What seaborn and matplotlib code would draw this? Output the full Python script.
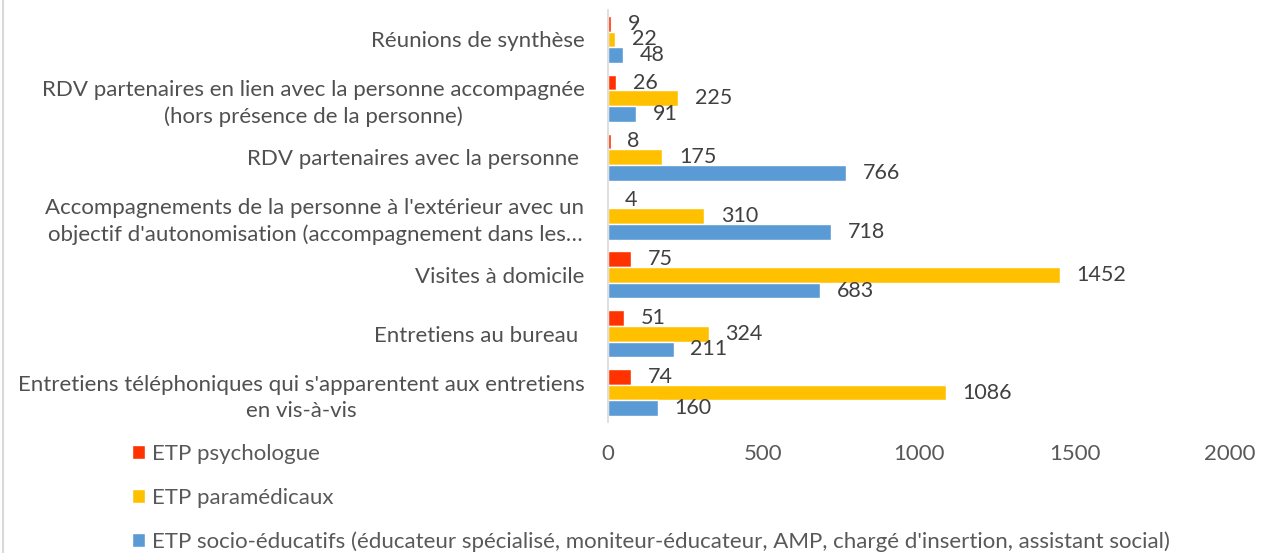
import pandas as pd
import matplotlib.pyplot as plt
import seaborn as sns
from matplotlib.lines import Line2D

# Categories (top to bottom) and series values
categories = [
    "Réunions de synthèse",
    "RDV partenaires en lien avec la personne accompagnée\n(hors présence de la personne)",
    "RDV partenaires avec la personne ",
    "Accompagnements de la personne à l'extérieur avec un\nobjectif d'autonomisation (accompagnement dans les…",
    "Visites à domicile",
    "Entretiens au bureau ",
    "Entretiens téléphoniques qui s'apparentent aux entretiens\nen vis-à-vis",
]
series = [
    "ETP psychologue",
    "ETP paramédicaux",
    "ETP socio-éducatifs (éducateur spécialisé, moniteur-éducateur, AMP, chargé d'insertion, assistant social)",
]
psychologue = [9, 26, 8, 0.3, 75, 51, 74]
paramedicaux = [22, 225, 175, 310, 1452, 324, 1086]
socio_educatifs = [48, 91, 766, 718, 683, 211, 160]
value_text = [
    ["9", "26", "8", "4", "75", "51", "74"],
    ["22", "225", "175", "310", "1452", "324", "1086"],
    ["48", "91", "766", "718", "683", "211", "160"],
]
colors = ["#FF3300", "#FFC000", "#5B9BD5"]
xticks = [0, 500, 1000, 1500, 2000]

rows = []
for s, vals in zip(series, [psychologue, paramedicaux, socio_educatifs]):
    for c, v in zip(categories, vals):
        rows.append({"Catégorie": c, "Série": s, "Valeur": v})
df = pd.DataFrame(rows)

sns.set_style("white")
plt.rcParams["font.family"] = ["Lato", "DejaVu Sans"]

fig = plt.figure(figsize=(12.61, 5.53), dpi=100)
ax = fig.add_axes([0.4822, 0.2369, 0.4932, 0.7451])

sns.barplot(data=df, y="Catégorie", x="Valeur", hue="Série", order=categories,
            hue_order=series, palette=colors, orient="h", width=0.8,
            saturation=1, ax=ax, legend=True)

for cont, labels in zip(ax.containers, value_text):
    ax.bar_label(cont, labels=labels, padding=12, fontsize=15.5, color="#404040")

ax.set_xlim(0, 2000)
ax.set_xticks(xticks)
ax.set_xlabel("")
ax.set_ylabel("")
ax.tick_params(axis="x", length=0, pad=15.5, labelsize=16, labelcolor="#595959")
ax.tick_params(axis="y", length=0, pad=17, labelsize=16, labelcolor="#505050")
for lab in ax.get_yticklabels():
    lab.set_multialignment("center")
    lab.set_linespacing(1.4)
for side in ["top", "right", "bottom"]:
    ax.spines[side].set_visible(False)
ax.spines["left"].set_color("#D9D9D9")
ax.spines["left"].set_linewidth(1.2)

handles, labels = ax.get_legend_handles_labels()
ax.legend_.remove()
fig.legend(handles, labels, loc="upper left", bbox_to_anchor=(0.1047, 0.197),
           frameon=False, fontsize=16, labelcolor="#595959",
           handlelength=0.6, handleheight=0.6, handletextpad=0.3,
           labelspacing=1.07, borderaxespad=0, borderpad=0)

fig.add_artist(Line2D([0.002, 0.002], [0, 1], transform=fig.transFigure,
                      color="#D9D9D9", linewidth=1.5))

fig.savefig("out.png", dpi=100)
